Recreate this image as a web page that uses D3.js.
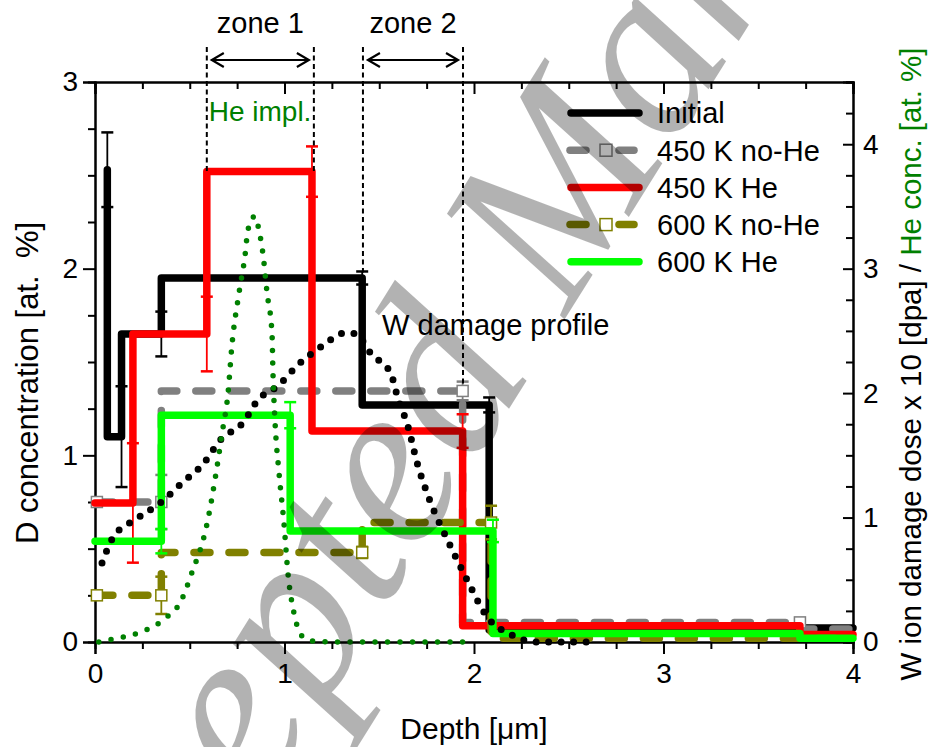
<!DOCTYPE html>
<html>
<head>
<meta charset="utf-8">
<script src="https://cdn.jsdelivr.net/npm/d3@7"></script>
<style>
  body { margin: 0; background: #fff; }
  svg { display: block; font-family: "Liberation Sans", Arial, sans-serif; }
</style>
</head>
<body>
<svg id="chart" width="931" height="747"></svg>
<script>
// D concentration step profiles (depth in um, conc in at.%), step drawn "before" each point
const initialDepth = [0.065, 0.14, 0.35, 1.41, 2.08, 3.73, 4.0];
const initialConc  = [2.53, 1.10, 1.65, 1.95, 1.27, 0.065, 0.075];
const initialErr   = [0.20, 0.27, 0.12, 0.035, 0.04, 0, 0];

const noHe450Depth = [0.01, 0.35, 1.94, 3.72, 4.0];
const noHe450Conc  = [0.75, 0.75, 1.345, 0.105, 0.07];
const noHe450Err   = [0, 0.145, 0.05, 0.02, 0];

const he450Depth = [0, 0.2, 0.59, 1.145, 1.94, 3.72, 4.0];
const he450Conc  = [0.745, 0.745, 1.65, 2.52, 1.13, 0.087, 0.04];
const he450Err   = [0, 0.32, 0.2, 0.135, 0.09, 0, 0];

const noHe600Depth = [0.01, 0.35, 1.41, 2.09, 4.0];
const noHe600Conc  = [0.25, 0.25, 0.48, 0.64, 0.02];
const noHe600Err   = [0, 0.1, 0.03, 0.09, 0];

const he600Depth = [0, 0.35, 1.03, 2.1, 3.72, 4.0];
const he600Conc  = [0.54, 0.54, 1.215, 0.595, 0.045, 0.02];
const he600Err   = [0, 0.065, 0.07, 0.06, 0, 0];

// right-axis profiles
const damageDepth = [0.037, 0.095, 0.22, 0.35, 0.46, 0.57, 0.665, 0.78, 0.86, 0.966, 1.077, 1.21, 1.31, 1.37, 1.46, 1.56, 1.60, 1.65, 1.70, 1.77, 1.86, 1.96, 2.07, 2.20, 2.33, 2.6];
const damageDose  = [0.635, 0.84, 0.99, 1.125, 1.28, 1.43, 1.63, 1.76, 1.945, 2.06, 2.235, 2.39, 2.48, 2.48, 2.31, 2.16, 1.95, 1.74, 1.44, 1.125, 0.82, 0.51, 0.20, 0.056, 0.0, 0.0];

const heDepth = [0.02, 0.095, 0.227, 0.359, 0.459, 0.507, 0.591, 0.639, 0.670, 0.702, 0.723, 0.760, 0.792, 0.807, 0.844, 0.865, 0.887, 0.908, 0.934, 0.939, 0.950, 0.971, 0.997, 1.018, 1.050, 1.098, 1.15, 1.29, 2.0];
const heConc  = [0, 0.024, 0.072, 0.177, 0.346, 0.539, 0.949, 1.359, 1.672, 2.0, 2.39, 2.805, 3.11, 3.31, 3.42, 3.31, 3.11, 2.805, 2.48, 2.17, 1.77, 1.36, 0.957, 0.555, 0.233, 0.04, 0.008, 0, 0];

const xTicks = [0, 1, 2, 3, 4];
const yLeftTicks = [0, 1, 2, 3];
const yRightTicks = [0, 1, 2, 3, 4];

// zones: edges in depth, lower end of each dashed marker line in conc
const zoneNames = ["zone 1", "zone 2"];
const zoneStart = [0.59, 1.414];
const zoneEnd   = [1.155, 1.942];
const zoneStartBottom = [2.52, 1.98];
const zoneEndBottom   = [2.52, 1.38];

const series = [
  { name: "Initial",     depth: initialDepth, conc: initialConc, err: initialErr, color: "#000000", dash: null,    marker: false },
  { name: "450 K no-He", depth: noHe450Depth, conc: noHe450Conc, err: noHe450Err, color: "#808080", dash: "16 19", marker: true },
  { name: "450 K He",    depth: he450Depth,   conc: he450Conc,   err: he450Err,   color: "#ff0000", dash: null,    marker: false },
  { name: "600 K no-He", depth: noHe600Depth, conc: noHe600Conc, err: noHe600Err, color: "#808000", dash: "16 19", marker: true },
  { name: "600 K He",    depth: he600Depth,   conc: he600Conc,   err: he600Err,   color: "#00ff00", dash: null,    marker: false }
];

const W = 931, H = 747;
const margin = { top: 82, right: 78, bottom: 105, left: 95 };
const svg = d3.select("#chart");

const x = d3.scaleLinear().domain([0, 4]).range([margin.left, W - margin.right]);
const y = d3.scaleLinear().domain([0, 3]).range([H - margin.bottom, margin.top]);
const yR = d3.scaleLinear().domain([0, 4.5]).range([H - margin.bottom, margin.top]);

const minorX = d3.range(0, 4.001, 0.25).filter(v => Math.abs(v - Math.round(v)) > 1e-6);
const minorY = d3.range(0, 3.001, 0.25).filter(v => Math.abs(v - Math.round(v)) > 1e-6);
const minorYR = d3.range(0, 4.501, 0.25).filter(v => Math.abs(v - Math.round(v)) > 1e-6);

function styleAxis(g) {
  g.select(".domain").attr("stroke", "#000").attr("stroke-width", 2);
  g.selectAll(".tick line").attr("stroke", "#000").attr("stroke-width", 2);
  g.selectAll(".tick text").attr("font-size", 28).attr("fill", "#000")
    .attr("font-family", "Liberation Sans, Arial, sans-serif");
}

// bottom axis
svg.append("g").attr("transform", `translate(0,${H - margin.bottom})`)
  .call(d3.axisBottom(x).tickValues(minorX).tickSize(7).tickFormat(""))
  .call(styleAxis);
svg.append("g").attr("transform", `translate(0,${H - margin.bottom})`)
  .call(d3.axisBottom(x).tickValues(xTicks).tickSize(12).tickPadding(9).tickFormat(d3.format("d")))
  .call(styleAxis);
// top axis, ticks inward
svg.append("g").attr("transform", `translate(0,${margin.top})`)
  .call(d3.axisTop(x).tickValues(minorX).tickSize(-7).tickFormat(""))
  .call(styleAxis);
svg.append("g").attr("transform", `translate(0,${margin.top})`)
  .call(d3.axisTop(x).tickValues(xTicks).tickSize(-12).tickFormat(""))
  .call(styleAxis);
// left axis
svg.append("g").attr("transform", `translate(${margin.left},0)`)
  .call(d3.axisLeft(y).tickValues(minorY).tickSize(7).tickFormat(""))
  .call(styleAxis);
svg.append("g").attr("transform", `translate(${margin.left},0)`)
  .call(d3.axisLeft(y).tickValues(yLeftTicks).tickSize(12).tickPadding(5).tickFormat(d3.format("d")))
  .call(styleAxis);
// right axis, ticks inward
svg.append("g").attr("transform", `translate(${W - margin.right},0)`)
  .call(d3.axisRight(yR).tickValues(minorYR).tickSize(-7).tickFormat(""))
  .call(styleAxis);
svg.append("g").attr("transform", `translate(${W - margin.right},0)`)
  .call(d3.axisRight(yR).tickValues(yRightTicks).tickSize(-10).tickPadding(10).tickFormat(d3.format("d")))
  .call(styleAxis);

// axis titles
svg.append("text").attr("x", x(2)).attr("y", 739).attr("text-anchor", "middle")
  .attr("font-size", 30).text("Depth [\u03bcm]");
svg.append("text").attr("transform", "translate(38,383) rotate(-90)")
  .attr("text-anchor", "middle").attr("font-size", 31).attr("xml:space", "preserve")
  .text("D concentration [at.  %]");
const rt = svg.append("text").attr("transform", "translate(921,364) rotate(-90)")
  .attr("text-anchor", "middle").attr("font-size", 29.5);
rt.append("tspan").attr("fill", "#000").text("W ion damage dose x 10 [dpa] / ");
rt.append("tspan").attr("fill", "#008000").text("He conc. [at. %]");

// D profiles
const stepLine = d3.line().curve(d3.curveStepBefore);
series.forEach(s => {
  const pts = s.depth.map((d, i) => [x(d), y(s.conc[i])]);
  svg.append("path").attr("d", stepLine(pts)).attr("fill", "none")
    .attr("stroke", s.color).attr("stroke-width", 7.5)
    .attr("stroke-linejoin", "round").attr("stroke-linecap", "round")
    .attr("stroke-dasharray", s.dash);
  const eb = svg.append("g");
  s.depth.forEach((d, i) => {
    const e = s.err[i];
    if (!e) return;
    const cx = x(d), y1 = y(s.conc[i] - e), y2 = y(s.conc[i] + e);
    eb.append("line").attr("x1", cx).attr("x2", cx).attr("y1", y1).attr("y2", y2)
      .attr("stroke", s.color).attr("stroke-width", 1.8);
    [y1, y2].forEach(yy => eb.append("line").attr("x1", cx - 6).attr("x2", cx + 6)
      .attr("y1", yy).attr("y2", yy).attr("stroke", s.color).attr("stroke-width", 2.5));
  });
  if (s.marker) {
    s.depth.forEach((d, i) => {
      if (d >= 4) return;
      svg.append("rect").attr("x", x(d) - 5.5).attr("y", y(s.conc[i]) - 5.5)
        .attr("width", 11).attr("height", 11).attr("fill", "#fff")
        .attr("stroke", s.color).attr("stroke-width", 1.5);
    });
  }
});

// dotted right-axis profiles
const smooth = d3.line().curve(d3.curveMonotoneX);
svg.append("path").attr("d", smooth(damageDepth.map((d, i) => [x(d), yR(damageDose[i])])))
  .attr("fill", "none").attr("stroke", "#000").attr("stroke-width", 7)
  .attr("stroke-linecap", "round").attr("stroke-dasharray", "0 12.5");
svg.append("path").attr("d", smooth(heDepth.map((d, i) => [x(d), yR(heConc[i])])))
  .attr("fill", "none").attr("stroke", "#008000").attr("stroke-width", 5.5)
  .attr("stroke-linecap", "round").attr("stroke-dasharray", "0 12.5");

// zone markers
const arrowY = 60, lineTop = 47;
zoneNames.forEach((z, i) => {
  const xa = x(zoneStart[i]), xb = x(zoneEnd[i]);
  [[xa, zoneStartBottom[i]], [xb, zoneEndBottom[i]]].forEach(([xx, b]) =>
    svg.append("line").attr("x1", xx).attr("x2", xx).attr("y1", lineTop).attr("y2", y(b))
      .attr("stroke", "#000").attr("stroke-width", 2).attr("stroke-dasharray", "5 3.5"));
  const l = xa + 5, r = xb - 5;
  svg.append("path")
    .attr("d", `M${l},${arrowY}H${r}M${l + 12},${arrowY - 7}L${l},${arrowY}L${l + 12},${arrowY + 7}M${r - 12},${arrowY - 7}L${r},${arrowY}L${r - 12},${arrowY + 7}`)
    .attr("fill", "none").attr("stroke", "#000").attr("stroke-width", 2.2);
  svg.append("text").attr("x", (xa + xb) / 2).attr("y", 33).attr("text-anchor", "middle")
    .attr("font-size", 29).text(z);
});

// annotations
svg.append("text").attr("x", x(0.6)).attr("y", 121).attr("font-size", 28)
  .attr("fill", "#008000").text("He impl.");
svg.append("text").attr("x", x(1.515)).attr("y", 335).attr("font-size", 29)
  .attr("fill", "#000").text("W damage profile");

// legend
const lg = svg.append("g");
series.forEach((s, i) => {
  const cy = 113 + i * 37.2;
  if (s.marker) {
    lg.append("line").attr("x1", 570).attr("x2", 586).attr("y1", cy).attr("y2", cy)
      .attr("stroke", s.color).attr("stroke-width", 7.5).attr("stroke-linecap", "round");
    lg.append("line").attr("x1", 619).attr("x2", 634).attr("y1", cy).attr("y2", cy)
      .attr("stroke", s.color).attr("stroke-width", 7.5).attr("stroke-linecap", "round");
    lg.append("rect").attr("x", 600).attr("y", cy - 6).attr("width", 12).attr("height", 12)
      .attr("fill", "#fff").attr("stroke", s.color).attr("stroke-width", 1.5);
  } else {
    lg.append("line").attr("x1", 571).attr("x2", 639).attr("y1", cy).attr("y2", cy)
      .attr("stroke", s.color).attr("stroke-width", 7.5).attr("stroke-linecap", "round");
  }
  lg.append("text").attr("x", 657).attr("y", cy).attr("dy", "0.36em")
    .attr("font-size", 29).text(s.name);
});

// watermark
svg.append("text")
  .attr("transform", "translate(610,247) rotate(-58)")
  .attr("text-anchor", "middle")
  .attr("font-family", "Liberation Serif, Times New Roman, serif")
  .attr("font-style", "italic").attr("font-size", 238)
  .attr("fill", "#000").attr("fill-opacity", 0.3)
  .text("Accepted Manuscript");
</script>
</body>
</html>
